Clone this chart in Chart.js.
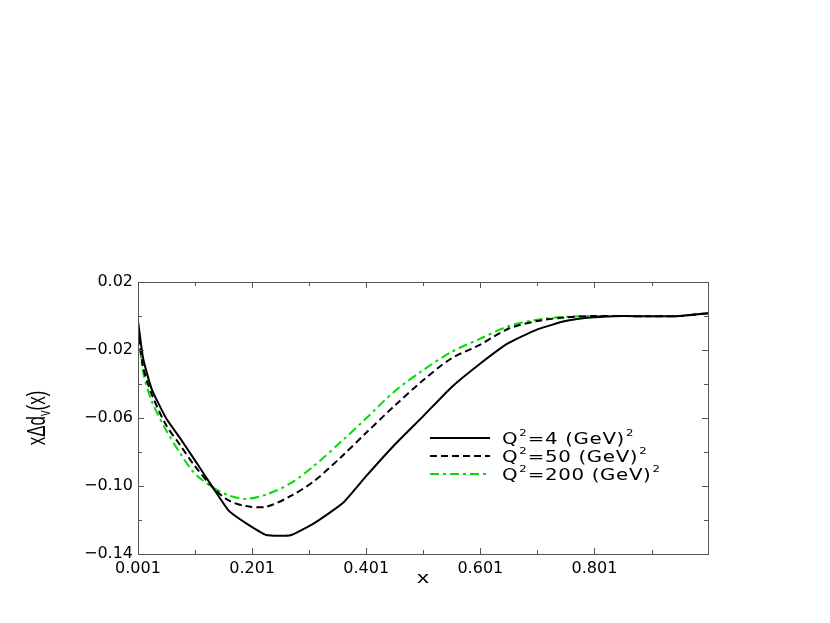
<!DOCTYPE html>
<html>
<head>
<meta charset="utf-8">
<script src="https://cdn.jsdelivr.net/npm/chart.js@4.4.0/dist/chart.umd.min.js"></script>
<style>
  html, body { margin: 0; padding: 0; background: #fff; }
</style>
</head>
<body>
<canvas id="myChart" width="830" height="623"></canvas>
<script>
// values
let xValues = [0.001, 0.01, 0.025, 0.05, 0.075, 0.1, 0.132, 0.16, 0.19, 0.226, 0.268, 0.31,
               0.36, 0.4, 0.45, 0.5, 0.55, 0.6, 0.65, 0.7, 0.75, 0.8, 0.85, 0.9, 0.95, 1.0];
let q4Values = [-0.003, -0.025, -0.043, -0.060, -0.072, -0.0845, -0.1008, -0.1145, -0.1218, -0.1288,
                -0.1290, -0.1218, -0.110, -0.0945, -0.076, -0.0592, -0.042, -0.0282, -0.016,
                -0.008, -0.003, -0.0008, 0.0, -0.0002, 0.0, 0.0016];
let q50Values = [-0.006, -0.030, -0.046, -0.064, -0.076, -0.088, -0.1008, -0.1085, -0.1118, -0.1122,
                 -0.106, -0.097, -0.082, -0.069, -0.053, -0.038, -0.025, -0.017, -0.0075,
                 -0.003, -0.0008, 0.0, 0.0, -0.0002, 0.0, 0.0016];
let q200Values = [-0.008, -0.033, -0.050, -0.067, -0.0808, -0.0925, -0.1008, -0.1055, -0.1076, -0.105,
                  -0.0985, -0.088, -0.073, -0.0605, -0.0445, -0.032, -0.0212, -0.0135, -0.006,
                  -0.0022, -0.0005, 0.0, 0.0, -0.0002, 0.0, 0.0016];
let seriesNames = ['Q²=4 (GeV)²', 'Q²=50 (GeV)²', 'Q²=200 (GeV)²'];
let xTicks = [0.001, 0.201, 0.401, 0.601, 0.801];
let xMinorTicks = [0.101, 0.301, 0.501, 0.701, 0.901];
let yTicks = [-0.14, -0.10, -0.06, -0.02, 0.02];
let yMinorTicks = [-0.12, -0.08, -0.04, 0.0];

function toPoints(vals) {
    return vals.map((v, i) => ({ x: xValues[i], y: v }));
}

function fmtY(v) {
    let s = Math.abs(v).toFixed(2);
    return v < -1e-9 ? '\u2212' + s : s;
}

// the reference text is drawn wide, so stretch it a bit
function wideText(ctx, str, x, y, font, sx, gap) {
    ctx.font = font;
    let cx = 0;
    ctx.save();
    ctx.translate(x, y);
    ctx.scale(sx, 1);
    for (let ch of str) {
        ctx.fillText(ch, cx, 0);
        cx += ctx.measureText(ch).width + gap;
    }
    ctx.restore();
    return cx * sx;
}

// ticks inside the box, the frame, axis titles and the legend
let decorPlugin = {
    id: 'decor',
    afterDraw(chart) {
        let ctx = chart.ctx;
        let a = chart.chartArea;
        let xs = chart.scales.x;
        let ys = chart.scales.y;
        ctx.save();
        ctx.strokeStyle = '#555';
        ctx.lineWidth = 1;
        ctx.setLineDash([]);
        ctx.strokeRect(a.left + 0.5, a.top + 0.5, a.right - a.left, a.bottom - a.top);

        ctx.beginPath();
        let tick = (arr, len) => {
            arr.forEach(v => {
                let px = Math.round(xs.getPixelForValue(v)) + 0.5;
                ctx.moveTo(px, a.bottom); ctx.lineTo(px, a.bottom - len);
                ctx.moveTo(px, a.top); ctx.lineTo(px, a.top + len);
            });
        };
        let tickY = (arr, len) => {
            arr.forEach(v => {
                let py = Math.round(ys.getPixelForValue(v)) + 0.5;
                ctx.moveTo(a.left, py); ctx.lineTo(a.left + len, py);
                ctx.moveTo(a.right, py); ctx.lineTo(a.right - len, py);
            });
        };
        tick(xTicks, 6); tick(xMinorTicks, 4);
        tickY(yTicks, 6); tickY(yMinorTicks, 4);
        ctx.stroke();

        // x title
        ctx.fillStyle = '#000';
        ctx.textAlign = 'left';
        ctx.textBaseline = 'alphabetic';
        ctx.save();
        ctx.translate((a.left + a.right) / 2, 583);
        ctx.scale(1.5, 1);
        ctx.font = '16px "Liberation Sans"';
        ctx.textAlign = 'center';
        ctx.fillText('x', 0, 0);
        ctx.restore();

        // y title with subscript
        ctx.save();
        ctx.translate(45, (a.top + a.bottom) / 2);
        ctx.rotate(-Math.PI / 2);
        ctx.scale(1, 1.5);
        let big = '17px "Liberation Sans"';
        let small = '11px "Liberation Sans"';
        ctx.font = big;
        let w1 = ctx.measureText('x\u0394d').width;
        let w3 = ctx.measureText('(x)').width;
        ctx.font = small;
        let w2 = ctx.measureText('v').width;
        let x0 = -(w1 + w2 + w3) / 2;
        ctx.font = big;
        ctx.fillText('x\u0394d', x0, 0);
        ctx.font = small;
        ctx.fillText('v', x0 + w1, 3);
        ctx.font = big;
        ctx.fillText('(x)', x0 + w1 + w2, 0);
        ctx.restore();

        // legend
        chart.data.datasets.forEach((ds, i) => {
            let y = 438 + i * 18;
            ctx.strokeStyle = ds.borderColor;
            ctx.lineWidth = ds.borderWidth;
            ctx.setLineDash(ds.borderDash || []);
            ctx.beginPath();
            ctx.moveTo(430, y);
            ctx.lineTo(490, y);
            ctx.stroke();
            ctx.setLineDash([]);

            ctx.fillStyle = '#000';
            let parts = ds.label.split('\u00b2');
            let cx = 502;
            parts.forEach((p, k) => {
                cx += wideText(ctx, p, cx, y + 6, '15px "DejaVu Sans"', 1.32, 0.5);
                if (k < parts.length - 1) {
                    cx += wideText(ctx, '2', cx + 1, y - 2, '9px "DejaVu Sans"', 1.3, 0) + 2;
                }
            });
        });
        ctx.restore();
    }
};

let ctx = document.getElementById('myChart').getContext('2d');
let myChart = new Chart(ctx, {
    type: 'line',
    data: {
        datasets: [{
            label: seriesNames[0],
            data: toPoints(q4Values),
            borderColor: '#000000',
            borderWidth: 2,
            pointRadius: 0,
            tension: 0.15
        }, {
            label: seriesNames[1],
            data: toPoints(q50Values),
            borderColor: '#000000',
            borderWidth: 2,
            borderDash: [7, 4],
            pointRadius: 0,
            tension: 0.3
        }, {
            label: seriesNames[2],
            data: toPoints(q200Values),
            borderColor: '#00dd00',
            borderWidth: 2,
            borderDash: [9, 4, 3, 4],
            pointRadius: 0,
            tension: 0.3
        }]
    },
    options: {
        responsive: false,
        animation: false,
        devicePixelRatio: 1,
        layout: { padding: { left: 0, top: 282, right: 122, bottom: 0 } },
        plugins: {
            legend: { display: false },
            tooltip: { enabled: false }
        },
        scales: {
            x: {
                type: 'linear',
                min: 0.001,
                max: 1.0,
                grid: { display: false, drawTicks: false },
                border: { display: false },
                afterBuildTicks: s => { s.ticks = xTicks.map(v => ({ value: v })); },
                afterFit: s => { s.height = 69; },
                ticks: {
                    padding: 5,
                    color: '#000',
                    font: { family: 'DejaVu Sans', size: 16 },
                    maxRotation: 0,
                    callback: v => v.toFixed(3)
                }
            },
            y: {
                min: -0.14,
                max: 0.02,
                grid: { display: false, drawTicks: false },
                border: { display: false },
                afterBuildTicks: s => { s.ticks = yTicks.map(v => ({ value: v })); },
                afterFit: s => { s.width = 138; },
                ticks: {
                    padding: 5,
                    color: '#000',
                    font: { family: 'DejaVu Sans', size: 16 },
                    callback: v => fmtY(v)
                }
            }
        }
    },
    plugins: [decorPlugin]
});
</script>
</body>
</html>
